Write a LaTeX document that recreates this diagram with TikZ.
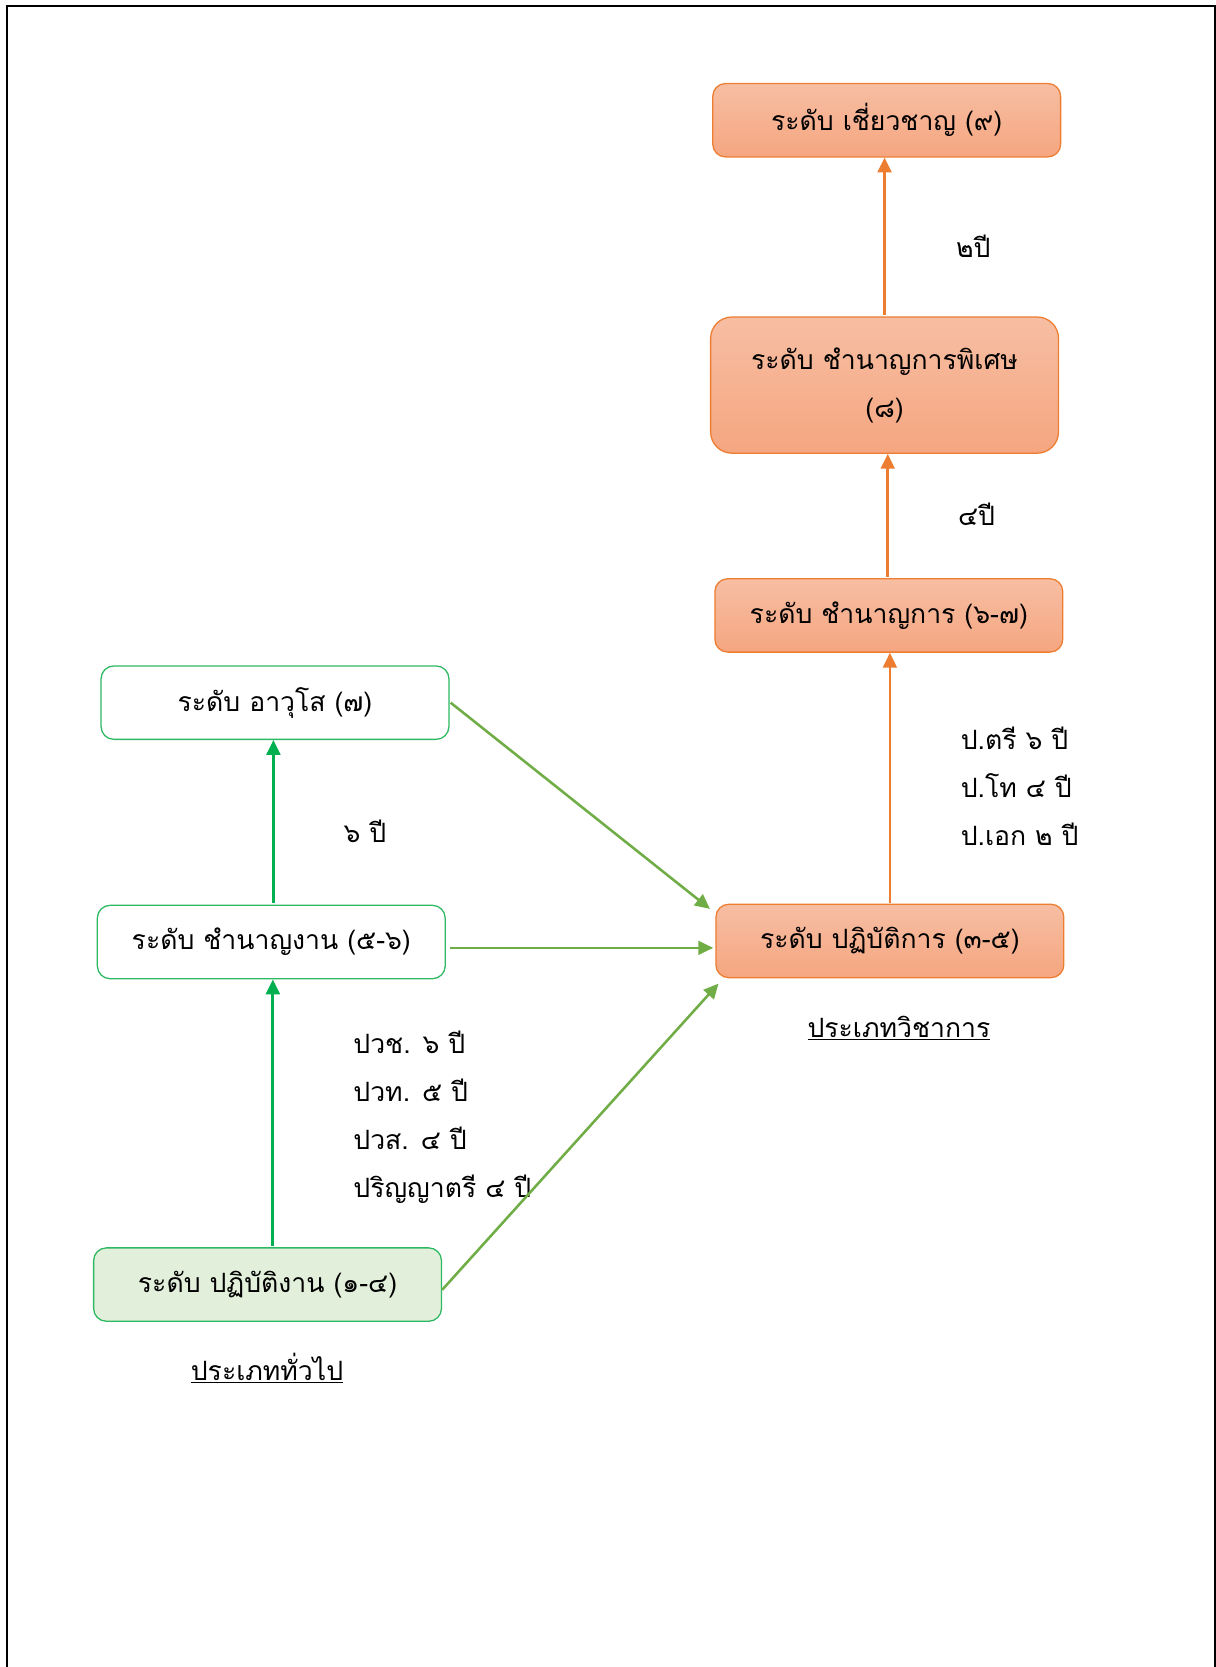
\documentclass[tikz,border=0pt]{standalone}
\usepackage{fontspec}
\newfontfamily\thaifont[Script=Thai]{Loma}
\usetikzlibrary{arrows.meta,calc}
\definecolor{orB}{HTML}{ED7D31}
\definecolor{orTop}{HTML}{F7BEA3}
\definecolor{orBot}{HTML}{F5A680}
\definecolor{grB}{HTML}{2DB862}
\definecolor{grA}{HTML}{00B050}
\definecolor{grL}{HTML}{70AD47}
\definecolor{grFill}{HTML}{E2EFDA}
\begin{document}
\begin{tikzpicture}[x=1pt,y=-1pt,
  every node/.style={font=\thaifont\fontsize{25}{45}\selectfont},
  orbox/.style={draw=orB, line width=1.2pt, rounded corners=12pt, top color=orTop, bottom color=orBot,
    minimum width=327pt, minimum height=69pt, align=center, inner sep=0pt},
  grbox/.style={draw=grB, line width=1.2pt, rounded corners=12pt, fill=white,
    minimum width=327pt, minimum height=69pt, align=center, inner sep=0pt},
  orarrow/.style={draw=orB, line width=2.5pt, -{Triangle[width=13pt,length=14pt]}},
  grarrow/.style={draw=grA, line width=2.6pt, -{Triangle[width=13pt,length=14pt]}},
  glarrow/.style={draw=grL, line width=2.4pt, -{Triangle[width=13pt,length=14pt]}},
  lbl/.style={align=left, inner sep=0pt}
]
\useasboundingbox (0,0) rectangle (1143,1567);
\draw[line width=2pt] (6.5,1600) -- (6.5,5.6) -- (1142,5.6) -- (1142,1600);

\node[orbox] (n1) at (833.5,113) {ระดับ เชี่ยวชาญ (๙)};
\node[orbox, minimum height=128pt, rounded corners=20pt] (n2) at (831.5,362) {ระดับ ชำนาญการพิเศษ\\(๘)};
\node[orbox] (n3) at (835.5,578.5) {ระดับ ชำนาญการ (๖-๗)};
\node[orbox] (n4) at (836.5,884.5) {ระดับ ปฏิบัติการ (๓-๕)};
\node[grbox] (n5) at (258.5,660.5) {ระดับ อาวุโส (๗)};
\node[grbox] (n6) at (255,885.5) {ระดับ ชำนาญงาน (๕-๖)};
\node[grbox, fill=grFill] (n7) at (251.5,1207.5) {ระดับ ปฏิบัติงาน (๑-๔)};

\node[inner sep=0pt] (t1) at (845,966) {\underline{ประเภทวิชาการ}};
\node[inner sep=0pt] (t2) at (251,1286) {\underline{ประเภททั่วไป}};

\node[inner sep=0pt] (l1) at (915,231) {๒ปี};
\node[inner sep=0pt] (l2) at (918,483) {๔ปี};
\node[lbl, anchor=west] (l3) at (903,739) {ป.ตรี ๖ ปี\\ป.โท ๔ ปี\\ป.เอก ๒ ปี};
\node[inner sep=0pt] (l4) at (343,781) {๖ ปี};
\node[lbl, anchor=west] (l5) at (332,1050) {ปวช. ๖ ปี\\ปวท. ๕ ปี\\ปวส. ๔ ปี\\ปริญญาตรี ๔ ปี};

\draw[orarrow] ($(n2.north)+(0,-1)$) -- (n2.north |- n1.south);
\draw[orarrow] ($(n3.north)+(-1,-1)$) -- ($(n3.north |- n2.south)+(-1,0)$);
\draw[orarrow] ($(n4.north)+(0,-1)$) -- (n4.north |- n3.south);
\draw[grarrow] ($(n6.north)+(2,-2)$) -- ($(n6.north |- n5.south)+(2,0)$);
\draw[grarrow] ($(n7.north)+(5,-1)$) -- ($(n7.north |- n6.south)+(5,0)$);
\draw[glarrow] ($(n5.east)+(1,0)$) -- ($(n4.north west)+(-5,5)$);
\draw[glarrow] ($(n6.east)+(4,5.5)$) -- ($(n4.west)+(-2,6.5)$);
\draw[glarrow] ($(n7.east)+(0,5)$) -- ($(n4.south west)+(3,5)$);
\end{tikzpicture}
\end{document}
